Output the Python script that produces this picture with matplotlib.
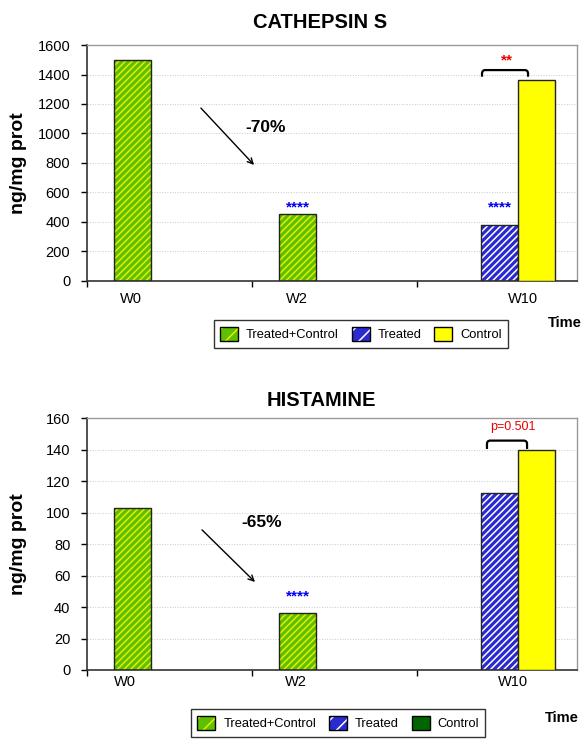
import matplotlib.pyplot as plt
import numpy as np
from matplotlib.patches import Patch
from matplotlib.path import Path
from matplotlib.patches import PathPatch

plt.rcParams['font.family'] = ['Liberation Sans', 'DejaVu Sans']
plt.rcParams['hatch.linewidth'] = 1.1

weeks = ["W0", "W2", "W10"]
series = ["Treated+Control", "Treated", "Control"]

# cathepsin S (ng/mg prot), nan = no bar
cat_mixed = [1500, 455, np.nan]
cat_treated = [np.nan, np.nan, 380]
cat_control = [np.nan, np.nan, 1365]

# histamine (ng/mg prot)
his_mixed = [103, 36.5, np.nan]
his_treated = [np.nan, np.nan, 112.5]
his_control = [np.nan, np.nan, 140]

GREEN, GREEN_STRIPE = '#5cbf00', '#e4ee00'
BLUE, BLUE_STRIPE = '#2a2ad0', '#ffffff'
YELLOW = '#ffff00'

width = 0.224
offsets = [0.276, 0.5, 0.724]


def hatched_bar(ax, x, h, face, stripe):
    ax.bar(x, h, width, color=face, edgecolor=stripe, hatch='/////', lw=0, zorder=2)
    ax.bar(x, h, width, facecolor='none', edgecolor='#222222', lw=1.0, zorder=3)


def draw_bars(ax, mixed, treated, control):
    idx = np.arange(len(weeks))
    for i in idx:
        if not np.isnan(mixed[i]):
            hatched_bar(ax, i + offsets[0], mixed[i], GREEN, GREEN_STRIPE)
        if not np.isnan(treated[i]):
            hatched_bar(ax, i + offsets[1], treated[i], BLUE, BLUE_STRIPE)
        if not np.isnan(control[i]):
            ax.bar(i + offsets[2], control[i], width, color=YELLOW,
                   edgecolor='#222222', lw=1.0, zorder=3)


def style_axes(ax, ymax, step, label_pos, label_y):
    ax.set_xlim(0, 2.97)
    ax.set_ylim(0, ymax)
    ax.set_yticks(np.arange(0, ymax + 1, step))
    ax.set_xticks([0, 1, 2])
    ax.set_xticklabels([])
    ax.tick_params(axis='y', labelsize=10.5, length=4, width=1, direction='out', pad=8)
    ax.tick_params(axis='x', length=4, width=1, direction='out')
    for y in np.arange(step, ymax + 1, step):
        ax.axhline(y, color='#c8c8c8', lw=0.7, ls=':', zorder=1)
    for s in ['left', 'bottom']:
        ax.spines[s].set_color('#333333')
        ax.spines[s].set_linewidth(1.2)
    for s in ['top', 'right']:
        ax.spines[s].set_color('#999999')
        ax.spines[s].set_linewidth(1.0)
    for x, w in zip(label_pos, weeks):
        ax.text(x, label_y, w, transform=ax.get_xaxis_transform(),
                ha='center', va='center', fontsize=10.5)


def bracket(ax, x0, x1, ytop, yend, r):
    rx = 0.02
    verts = [(x0, yend), (x0, ytop - r), (x0, ytop), (x0 + rx, ytop),
             (x1 - rx, ytop), (x1, ytop), (x1, ytop - r), (x1, yend)]
    codes = [Path.MOVETO, Path.LINETO, Path.CURVE3, Path.CURVE3,
             Path.LINETO, Path.CURVE3, Path.CURVE3, Path.LINETO]
    ax.add_patch(PathPatch(Path(verts, codes), fill=False, lw=1.6,
                           edgecolor='black', zorder=4, clip_on=False))


def stars(ax, x, y, s, color):
    ax.text(x, y, s, ha='center', va='bottom', fontsize=11, fontweight='bold',
            color=color)


def hatch_handle(face, stripe):
    return (Patch(facecolor=face, edgecolor=stripe, hatch='//', lw=0),
            Patch(facecolor='none', edgecolor='black', lw=1))


def legend(fig, handles, center):
    leg = fig.legend(handles, series, loc='center', bbox_to_anchor=center,
                     ncol=3, fontsize=9.3, frameon=True, fancybox=False,
                     edgecolor='black', handlelength=1.4, handleheight=1.3,
                     columnspacing=1.0, handletextpad=0.6, borderpad=0.5,
                     borderaxespad=0)
    leg.get_frame().set_linewidth(1.0)
    return leg


fig = plt.figure(figsize=(5.82, 7.39), dpi=100)

# ---- cathepsin S ----
ax1 = fig.add_axes([0.1495, 0.6198, 0.8420, 0.3193])
draw_bars(ax1, cat_mixed, cat_treated, cat_control)
style_axes(ax1, 1600, 200, [0.265, 1.274, 2.645], -0.076)
ax1.annotate('', xy=(1.024, 773), xytext=(0.679, 1186),
             arrowprops=dict(arrowstyle='->', lw=1.0, color='black'))
ax1.text(1.082, 1044, '-70%', ha='center', va='center', fontsize=12.5, fontweight='bold')
stars(ax1, 1.276, 450, '****', '#0000ee')
stars(ax1, 2.5, 450, '****', '#0000ee')
stars(ax1, 2.545, 1450, '**', '#ee0000')
bracket(ax1, 2.394, 2.673, 1430, 1385, 25)

fig.text(0.55, 0.969, 'CATHEPSIN S', ha='center', va='center',
         fontsize=14.5, fontweight='bold')
fig.text(0.031, 0.779, 'ng/mg prot', ha='center', va='center', rotation=90,
         fontsize=14, fontweight='bold')
handles1 = [hatch_handle(GREEN, GREEN_STRIPE), hatch_handle(BLUE, BLUE_STRIPE),
            Patch(facecolor=YELLOW, edgecolor='black', lw=1)]
legend(fig, handles1, (0.620, 0.548))
fig.text(0.970, 0.563, 'Time', ha='center', va='center', fontsize=10.5, fontweight='bold')

# ---- histamine ----
ax2 = fig.add_axes([0.1495, 0.0934, 0.8420, 0.3406])
draw_bars(ax2, his_mixed, his_treated, his_control)
style_axes(ax2, 160, 20, [0.227, 1.264, 2.58], -0.046)
ax2.annotate('', xy=(1.03, 54.7), xytext=(0.685, 90.3),
             arrowprops=dict(arrowstyle='->', lw=1.0, color='black'))
ax2.text(1.06, 93.6, '-65%', ha='center', va='center', fontsize=12.5, fontweight='bold')
stars(ax2, 1.276, 42.5, '****', '#0000ee')
ax2.text(2.58, 154.7, 'p=0.501', ha='center', va='center', fontsize=9, color='#ee0000')
bracket(ax2, 2.424, 2.667, 145.8, 140.5, 2.2)

fig.text(0.552, 0.4587, 'HISTAMINE', ha='center', va='center',
         fontsize=14.5, fontweight='bold')
fig.text(0.031, 0.264, 'ng/mg prot', ha='center', va='center', rotation=90,
         fontsize=14, fontweight='bold')
handles2 = [hatch_handle(GREEN, GREEN_STRIPE), hatch_handle(BLUE, BLUE_STRIPE),
            Patch(facecolor='#006600', edgecolor='black', lw=1)]
legend(fig, handles2, (0.581, 0.0216))
fig.text(0.965, 0.0284, 'Time', ha='center', va='center', fontsize=10.5, fontweight='bold')

fig.savefig('out.png', dpi=100)
